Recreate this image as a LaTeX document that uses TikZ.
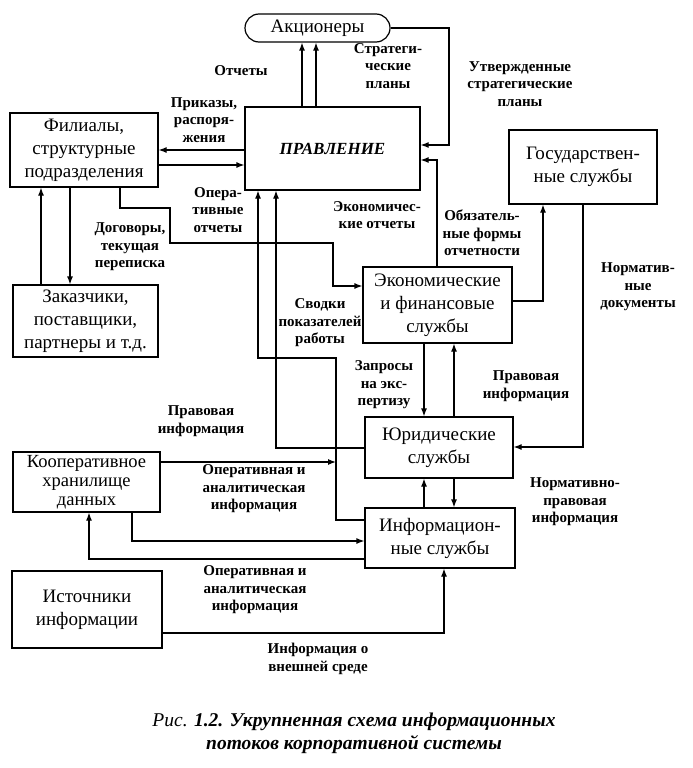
\documentclass[tikz,border=0pt]{standalone}
\usepackage{fontspec}
\setmainfont{Liberation Serif}
\usetikzlibrary{arrows.meta}
\newcommand\boxfont{\fontsize{19}{23}\selectfont}
\newcommand\lblfont{\bfseries\fontsize{15}{17.5}\selectfont}
\tikzset{
  box/.style={draw, line width=1.2pt, align=center, inner sep=0pt, font=\boxfont},
  lbl/.style={align=center, inner sep=0pt, font=\lblfont},
  arr/.style={line width=1.2pt, -{Latex[length=8pt,width=6pt]}},
}
\begin{document}
\begin{tikzpicture}[x=1pt, y=-1pt]
        \useasboundingbox (0,0) rectangle (693,768);
        % boxes
        \node[box, rounded corners=14pt, minimum width=145pt, minimum height=28pt] (akc) at (317.5,28) {Акционеры};
        \node[box, minimum width=175pt, minimum height=83pt, font=\fontsize{17}{23}\selectfont\bfseries\itshape] (prav) at (332.5,148.5) {ПРАВЛЕНИЕ};
        \node[box, minimum width=148pt, minimum height=74pt] (fil) at (84,150) {Филиалы,\\структурные\\подразделения};
        \node[box, minimum width=145pt, minimum height=72pt] (zak) at (85.5,321) {Заказчики,\\поставщики,\\партнеры и т.д.};
        \node[box, minimum width=147pt, minimum height=60pt, font=\fontsize{18.5}{19}\selectfont] (koop) at (86.5,482) {Кооперативное\\хранилище\\данных};
        \node[box, minimum width=150pt, minimum height=77pt] (ist) at (87,609.5) {Источники\\информации};
        \node[box, minimum width=148pt, minimum height=74pt] (gos) at (583,167) {Государствен-\\ные службы};
        \node[box, minimum width=149pt, minimum height=76pt] (eko) at (437.5,305) {Экономические\\и финансовые\\службы};
        \node[box, minimum width=148pt, minimum height=61pt] (yur) at (439,447.5) {Юридические\\службы};
        \node[box, minimum width=150pt, minimum height=60pt] (inf) at (440,538) {Информацион-\\ные службы};
        % bend points
        \coordinate (a1) at (302,0); \coordinate (a2) at (316,0);
        \coordinate (r1) at (449,145);
        \coordinate (h1) at (0,150); \coordinate (h2) at (0,165);
        \coordinate (f1) at (120,208); \coordinate (f2) at (170,243); \coordinate (f3) at (333,286);
        \coordinate (z1) at (41,0); \coordinate (z2) at (70,0);
        \coordinate (e1) at (437,160);
        \coordinate (g1) at (543,301); \coordinate (g2) at (583,447);
        \coordinate (j1) at (424,0); \coordinate (j2) at (454,0);
        \coordinate (p2) at (276,448);
        \coordinate (s1) at (336,520); \coordinate (s2) at (258,358);
        \coordinate (k1) at (336,462); \coordinate (k2) at (132,541); \coordinate (k3) at (89,559);
        \coordinate (i1) at (444,633);
        % connectors
        \foreach \p in {a1,a2} \draw[arr] (prav.north -| \p) -- (akc.south -| \p);
        \draw[arr] (akc.east) -| (r1) -- (prav.east |- r1);
        \draw[arr] (prav.west |- h1) -- (fil.east |- h1);
        \draw[arr] (fil.east |- h2) -- (prav.west |- h2);
        \draw[arr] (fil.south -| f1) -- (f1) -| (f2) -| (f3) -- (eko.west |- f3);
        \draw[arr] (zak.north -| z1) -- (fil.south -| z1);
        \draw[arr] (fil.south -| z2) -- (zak.north -| z2);
        \draw[arr] (eko.north -| e1) -- (e1) -- (prav.east |- e1);
        \draw[arr] (eko.east |- g1) -- (g1) -- (gos.south -| g1);
        \draw[arr] (gos.south) -- (g2) -- (yur.east |- g2);
        \draw[arr] (eko.south -| j1) -- (yur.north -| j1);
        \draw[arr] (yur.north -| j2) -- (eko.south -| j2);
        \draw[arr] (inf.north -| j1) -- (yur.south -| j1);
        \draw[arr] (yur.south -| j2) -- (inf.north -| j2);
        \draw[arr] (yur.west |- p2) -- (p2) -- (prav.south -| p2);
        \draw[arr] (inf.west |- s1) -- (s1) |- (s2) -- (prav.south -| s2);
        \draw[arr] (koop.east |- k1) -- (k1);
        \draw[arr] (koop.south -| k2) -- (k2) -- (inf.west |- k2);
        \draw[arr] (inf.west |- k3) -- (k3) -- (koop.south -| k3);
        \draw[arr] (ist.east |- i1) -- (i1) -- (inf.south -| i1);
        % labels
        \node[lbl] (l1) at (241,71) {Отчеты};
        \node[lbl] (l2) at (388,66) {Стратеги-\\ческие\\планы};
        \node[lbl] (l3) at (520,84) {Утвержденные\\стратегические\\планы};
        \node[lbl] (l4) at (204,120) {Приказы,\\распоря-\\жения};
        \node[lbl] (l5) at (218,210) {Опера-\\тивные\\отчеты};
        \node[lbl] (l6) at (130,247) {Договоры,\\текущая\\переписка};
        \node[lbl] (l7) at (377,215) {Экономичес-\\кие отчеты};
        \node[lbl] (l8) at (482,233) {Обязатель-\\ные формы\\отчетности};
        \node[lbl] (l9) at (638,287) {Норматив-\\ные\\документы};
        \node[lbl] (l10) at (320,323) {Сводки\\показателей\\работы};
        \node[lbl] (l11) at (384,385) {Запросы\\на экс-\\пертизу};
        \node[lbl] (l12) at (526,386) {Правовая\\информация};
        \node[lbl] (l13) at (201,421) {Правовая\\информация};
        \node[lbl] (l14) at (254,489) {Оперативная и\\аналитическая\\информация};
        \node[lbl] (l15) at (575,502) {Нормативно-\\правовая\\информация};
        \node[lbl] (l16) at (255,590) {Оперативная и\\аналитическая\\информация};
        \node[lbl] (l17) at (318,659) {Информация о\\внешней среде};
        % caption
        \node[align=center, inner sep=0pt, font=\fontsize{19.5}{23}\selectfont\itshape] (cap) at (354,733)
          {Рис. \textbf{1.2. Укрупненная схема информационных}\\\textbf{потоков корпоративной системы}};
    \end{tikzpicture}
\end{document}
